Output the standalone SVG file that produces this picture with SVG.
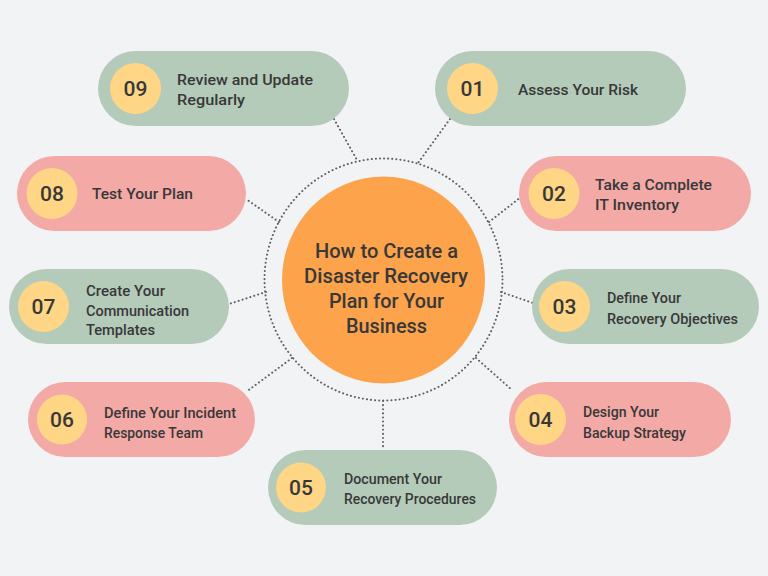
<svg xmlns="http://www.w3.org/2000/svg" width="768" height="576" viewBox="0 0 768 576">
<style>
.g{fill:#b4cbb9}.p{fill:#f3a9a6}.b{fill:#ffd685}
.c{fill:none;stroke:#5f6164;stroke-width:2;stroke-linecap:round;stroke-dasharray:0.1 4}
text{font-family:Roboto,"Noto Sans",sans-serif;fill:#383838}
.n{font-size:21px;font-weight:500;text-anchor:middle}
.t{font-size:15px;font-weight:500}
.h{font-size:20.500px;font-weight:500;text-anchor:middle}
</style>
<rect width="768" height="576" fill="#f2f3f5"/>
<g id="connectors">
<ellipse class="c" cx="383.500" cy="279.500" rx="119" ry="121"/>
<path class="c" d="M334 119L357 160M450 119L418 163M279 222L246 199M489 222L521 197M266 292L229 304M501 292L533 303M292 358L246 392M476 358L512 390M383 401V450"/>
</g>
<g id="center"><ellipse cx="383.500" cy="280" rx="101.500" ry="103.500" fill="#fca34c"/>
<text class="h" x="386.500" y="258" textLength="143" lengthAdjust="spacingAndGlyphs">How to Create a</text><text class="h" x="386" y="283" textLength="164" lengthAdjust="spacingAndGlyphs">Disaster Recovery</text><text class="h" x="386.500" y="308" textLength="115" lengthAdjust="spacingAndGlyphs">Plan for Your</text><text class="h" x="386.500" y="333" textLength="81" lengthAdjust="spacingAndGlyphs">Business</text></g>
<g id="node01"><rect class="g" x="435" y="51" width="251" height="75" rx="37.500"/><circle class="b" cx="472.500" cy="88.500" r="25.500"/><text class="n" x="472.500" y="95.500">01</text><text class="t" x="518" y="94.500" textLength="120" lengthAdjust="spacingAndGlyphs">Assess Your Risk</text></g>
<g id="node02"><rect class="p" x="519" y="156" width="232" height="75" rx="37.500"/><circle class="b" cx="554" cy="193.500" r="25.500"/><text class="n" x="554" y="200.500">02</text><text class="t" x="595" y="190" textLength="117" lengthAdjust="spacingAndGlyphs">Take a Complete</text><text class="t" x="595" y="210" textLength="84" lengthAdjust="spacingAndGlyphs">IT Inventory</text></g>
<g id="node03"><rect class="g" x="532" y="269" width="227" height="75" rx="37.500"/><circle class="b" cx="564.500" cy="306.500" r="25.500"/><text class="n" x="564.500" y="313.500">03</text><text class="t" x="607" y="303" textLength="74" lengthAdjust="spacingAndGlyphs">Define Your</text><text class="t" x="607" y="324" textLength="131" lengthAdjust="spacingAndGlyphs">Recovery Objectives</text></g>
<g id="node04"><rect class="p" x="509" y="382" width="222" height="75" rx="37.500"/><circle class="b" cx="540.500" cy="419.500" r="25.500"/><text class="n" x="540.500" y="426.500">04</text><text class="t" x="583" y="417" textLength="76" lengthAdjust="spacingAndGlyphs">Design Your</text><text class="t" x="583" y="438" textLength="103" lengthAdjust="spacingAndGlyphs">Backup Strategy</text></g>
<g id="node05"><rect class="g" x="268" y="450" width="229" height="75" rx="37.500"/><circle class="b" cx="301" cy="487.500" r="25"/><text class="n" x="301" y="494.500">05</text><text class="t" x="344" y="484" textLength="98" lengthAdjust="spacingAndGlyphs">Document Your</text><text class="t" x="344" y="504" textLength="132" lengthAdjust="spacingAndGlyphs">Recovery Procedures</text></g>
<g id="node06"><rect class="p" x="28" y="382" width="227" height="75" rx="37.500"/><circle class="b" cx="62" cy="419.500" r="25"/><text class="n" x="62" y="426.500">06</text><text class="t" x="104" y="417.500" textLength="132" lengthAdjust="spacingAndGlyphs">Define Your Incident</text><text class="t" x="104" y="438" textLength="99" lengthAdjust="spacingAndGlyphs">Response Team</text></g>
<g id="node07"><rect class="g" x="9" y="269" width="220" height="75" rx="37.500"/><circle class="b" cx="43.500" cy="306.500" r="25.500"/><text class="n" x="43.500" y="313.500">07</text><text class="t" x="86" y="295.500" textLength="79" lengthAdjust="spacingAndGlyphs">Create Your</text><text class="t" x="86" y="315.500" textLength="103" lengthAdjust="spacingAndGlyphs">Communication</text><text class="t" x="86" y="335" textLength="69" lengthAdjust="spacingAndGlyphs">Templates</text></g>
<g id="node08"><rect class="p" x="17" y="156" width="229" height="75" rx="37.500"/><circle class="b" cx="52" cy="193.500" r="25.500"/><text class="n" x="52" y="200.500">08</text><text class="t" x="92" y="199" textLength="101" lengthAdjust="spacingAndGlyphs">Test Your Plan</text></g>
<g id="node09"><rect class="g" x="98" y="51" width="251" height="75" rx="37.500"/><circle class="b" cx="135.500" cy="88.500" r="25.500"/><text class="n" x="135.500" y="95.500">09</text><text class="t" x="177" y="85" textLength="136" lengthAdjust="spacingAndGlyphs">Review and Update</text><text class="t" x="177" y="105" textLength="68" lengthAdjust="spacingAndGlyphs">Regularly</text></g>
</svg>
